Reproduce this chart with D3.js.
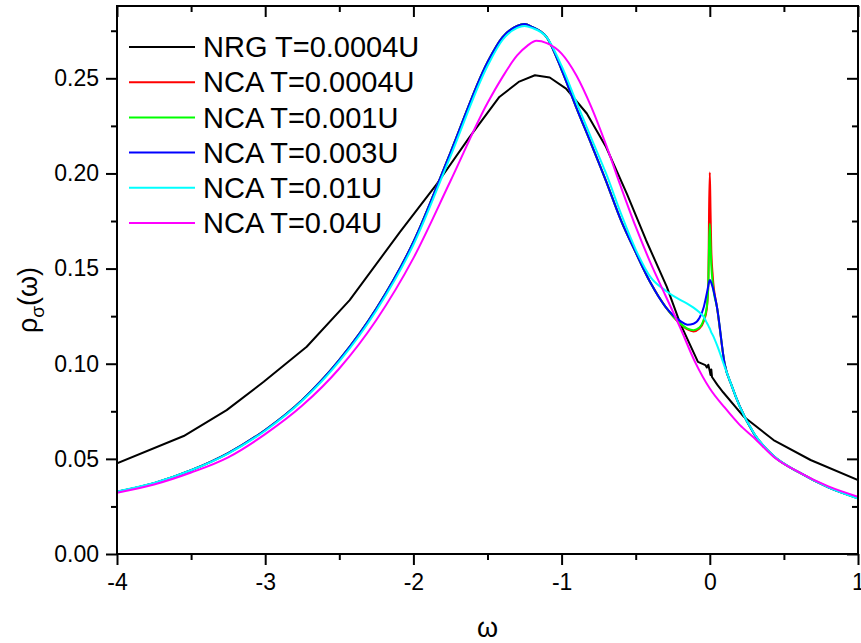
<!DOCTYPE html>
<html>
<head>
<meta charset="utf-8">
<script src="https://cdn.jsdelivr.net/npm/d3@7"></script>
<style>
body { margin: 0; background: #fff; }
text { font-family: "Liberation Sans", Arial, sans-serif; }
</style>
</head>
<body>
<svg id="chart" width="861" height="643"></svg>
<script>
// spectral function
var nrgW = [-4, -3.55, -3.26, -3.01, -2.72, -2.43, -2.09, -1.84, -1.62, -1.42, -1.29, -1.18, -1.08, -0.97, -0.83, -0.70, -0.56, -0.43, -0.29, -0.20, -0.08, -0.03, -0.02, -0.01, 0.0, 0.005, 0.01, 0.015, 0.05, 0.09, 0.23, 0.43, 0.68, 1.0];
var nrgRho = [0.0476, 0.0620, 0.0756, 0.0905, 0.1089, 0.1334, 0.1693, 0.1947, 0.2192, 0.2402, 0.2481, 0.2516, 0.2504, 0.2446, 0.2315, 0.2139, 0.1894, 0.1649, 0.1404, 0.1212, 0.1010, 0.0993, 0.0980, 0.0995, 0.0960, 0.0940, 0.0970, 0.0930, 0.0890, 0.0850, 0.0721, 0.0599, 0.0494, 0.0389];

var ncaW = [-4, -3.75, -3.5, -3.25, -3, -2.75, -2.5, -2.25, -2, -1.75, -1.5, -1.4, -1.3, -1.25, -1.2, -1.1, -1, -0.9, -0.8, -0.7, -0.6, -0.5, -0.4, -0.3, -0.2, -0.15, -0.11, -0.07, -0.04, -0.02, -0.01, -0.005, 0, 0.005, 0.01, 0.02, 0.05, 0.1, 0.15, 0.2, 0.3, 0.43, 0.6, 0.8, 1];
var ncaT0004 = [0.0327, 0.0372, 0.0440, 0.0530, 0.0652, 0.0810, 0.1020, 0.1290, 0.1640, 0.2110, 0.2585, 0.2715, 0.2775, 0.2785, 0.2770, 0.2715, 0.2545, 0.2345, 0.2155, 0.1960, 0.1755, 0.1585, 0.1425, 0.1300, 0.1210, 0.1180, 0.1170, 0.1185, 0.1225, 0.1290, 0.1420, 0.1800, 0.2005, 0.1800, 0.1600, 0.1460, 0.1290, 0.1000, 0.0880, 0.0780, 0.0630, 0.0515, 0.0430, 0.0350, 0.0293];
var ncaT001 = [0.0327, 0.0372, 0.0440, 0.0530, 0.0652, 0.0810, 0.1020, 0.1290, 0.1640, 0.2110, 0.2585, 0.2715, 0.2775, 0.2785, 0.2770, 0.2715, 0.2545, 0.2345, 0.2155, 0.1960, 0.1755, 0.1585, 0.1425, 0.1300, 0.1212, 0.1184, 0.1176, 0.1190, 0.1235, 0.1300, 0.1420, 0.1620, 0.1735, 0.1620, 0.1520, 0.1420, 0.1290, 0.1000, 0.0880, 0.0780, 0.0630, 0.0515, 0.0430, 0.0350, 0.0293];
var ncaT003 = [0.0327, 0.0372, 0.0440, 0.0530, 0.0652, 0.0810, 0.1020, 0.1290, 0.1640, 0.2110, 0.2585, 0.2715, 0.2775, 0.2785, 0.2770, 0.2715, 0.2545, 0.2345, 0.2155, 0.1960, 0.1755, 0.1585, 0.1425, 0.1300, 0.1225, 0.1205, 0.1210, 0.1240, 0.1300, 0.1370, 0.1410, 0.1430, 0.1440, 0.1435, 0.1425, 0.1400, 0.1290, 0.1000, 0.0880, 0.0780, 0.0630, 0.0515, 0.0430, 0.0350, 0.0293];
var ncaT01 = [0.0329, 0.0373, 0.0440, 0.0528, 0.0648, 0.0805, 0.1012, 0.1280, 0.1625, 0.2090, 0.2565, 0.2700, 0.2765, 0.2775, 0.2765, 0.2715, 0.2565, 0.2375, 0.2185, 0.2000, 0.1790, 0.1600, 0.1455, 0.1385, 0.1335, 0.1315, 0.1295, 0.1270, 0.1245, 0.1215, 0.1200, 0.1192, 0.1185, 0.1175, 0.1165, 0.1150, 0.1095, 0.0985, 0.0880, 0.0778, 0.0632, 0.0516, 0.0430, 0.0350, 0.0291];

var magW = [-4, -3.75, -3.5, -3.25, -3, -2.75, -2.5, -2.25, -2, -1.75, -1.5, -1.4, -1.3, -1.23, -1.17, -1.1, -1, -0.9, -0.8, -0.7, -0.6, -0.5, -0.4, -0.3, -0.2, -0.1, 0, 0.1, 0.2, 0.3, 0.43, 0.6, 0.8, 1];
var ncaT04 = [0.0322, 0.0365, 0.0428, 0.0508, 0.0630, 0.0780, 0.0975, 0.1230, 0.1555, 0.1960, 0.2370, 0.2505, 0.2620, 0.2672, 0.2697, 0.2685, 0.2630, 0.2515, 0.2350, 0.2150, 0.1930, 0.1720, 0.1530, 0.1360, 0.1190, 0.1010, 0.0870, 0.0770, 0.0680, 0.0610, 0.0511, 0.0430, 0.0355, 0.0301];

var seriesNames = ["NRG T=0.0004U", "NCA T=0.0004U", "NCA T=0.001U", "NCA T=0.003U", "NCA T=0.01U", "NCA T=0.04U"];
var seriesColors = ["#000000", "#ff0000", "#00ff00", "#0000ff", "#00ffff", "#ff00ff"];

var xTicks = [-4, -3, -2, -1, 0, 1];
var yTicks = [0, 0.05, 0.10, 0.15, 0.20, 0.25];

var W = 861, H = 643;
var m = {left: 117, top: 6, right: 3, bottom: 89};
var pw = W - m.left - m.right, ph = H - m.top - m.bottom;

var svg = d3.select("#chart");
var x = d3.scaleLinear().domain([-4, 1]).range([0, pw]);
var y = d3.scaleLinear().domain([0, 0.288]).range([ph, 0]);

var g = svg.append("g").attr("transform", "translate(" + m.left + "," + m.top + ")");

svg.append("defs").append("clipPath").attr("id", "clip")
	.append("rect").attr("width", pw).attr("height", ph);

function make_series(ws, vs) {
	return ws.map(function(w, i) { return [w, vs[i]]; });
}

var data = [
	{pts: make_series(nrgW, nrgRho), curve: d3.curveLinear},
	{pts: make_series(ncaW, ncaT0004), curve: d3.curveMonotoneX},
	{pts: make_series(ncaW, ncaT001), curve: d3.curveMonotoneX},
	{pts: make_series(ncaW, ncaT003), curve: d3.curveMonotoneX},
	{pts: make_series(ncaW, ncaT01), curve: d3.curveMonotoneX},
	{pts: make_series(magW, ncaT04), curve: d3.curveMonotoneX}
];

var lines = g.append("g").attr("clip-path", "url(#clip)");
data.forEach(function(d, i) {
	var line = d3.line().x(function(p) { return x(p[0]); }).y(function(p) { return y(p[1]); }).curve(d.curve);
	lines.append("path")
		.attr("d", line(d.pts))
		.attr("fill", "none")
		.style("stroke", seriesColors[i])
		.style("stroke-width", 2)
		.style("stroke-linejoin", "round");
});

// minor ticks
var xMinor = d3.range(-3.5, 1, 1);
var yMinor = d3.range(0.025, 0.288, 0.05);

function style_axis(sel) {
	sel.select(".domain").remove();
	sel.selectAll("line").style("stroke", "#000").style("stroke-width", 2);
	sel.selectAll("text").style("font-size", "23px").style("fill", "#000")
		.style("font-family", "'Liberation Sans', Arial, sans-serif");
}

g.append("g").attr("transform", "translate(0," + ph + ")")
	.call(d3.axisBottom(x).tickValues(xTicks).tickSize(11).tickPadding(9).tickFormat(function(d) { return String(d); }))
	.call(style_axis);
g.append("g").attr("transform", "translate(0," + ph + ")")
	.call(d3.axisBottom(x).tickValues(xMinor).tickSize(6).tickFormat(""))
	.call(style_axis);
g.append("g")
	.call(d3.axisLeft(y).tickValues(yTicks).tickSize(11).tickPadding(7).tickFormat(d3.format(".2f")))
	.call(style_axis);
g.append("g")
	.call(d3.axisLeft(y).tickValues(yMinor).tickSize(6).tickFormat(""))
	.call(style_axis);
// mirrored ticks, pointing inward
g.append("g")
	.call(d3.axisBottom(x).tickValues(xTicks).tickSize(11).tickFormat(""))
	.call(style_axis);
g.append("g")
	.call(d3.axisBottom(x).tickValues(xMinor).tickSize(6).tickFormat(""))
	.call(style_axis);
g.append("g").attr("transform", "translate(" + pw + ",0)")
	.call(d3.axisLeft(y).tickValues(yTicks).tickSize(11).tickFormat(""))
	.call(style_axis);
g.append("g").attr("transform", "translate(" + pw + ",0)")
	.call(d3.axisLeft(y).tickValues(yMinor).tickSize(6).tickFormat(""))
	.call(style_axis);

g.append("rect").attr("width", pw).attr("height", ph)
	.attr("fill", "none").style("stroke", "#000").style("stroke-width", 2);

// legend
var leg = svg.append("g").attr("transform", "translate(129,47)");
seriesNames.forEach(function(name, i) {
	var row = leg.append("g").attr("transform", "translate(0," + (i * 35.2) + ")");
	row.append("line").attr("x1", 0).attr("x2", 66).attr("y1", 0).attr("y2", 0)
		.style("stroke", seriesColors[i]).style("stroke-width", 2);
	row.append("text").attr("x", 74).attr("dy", "0.35em")
		.style("font-size", "29px").text(name);
});

// axis titles
svg.append("text").attr("x", m.left + pw / 2).attr("y", 637)
	.attr("text-anchor", "middle").style("font-size", "27px").text("ω");
var yt = svg.append("text").attr("transform", "translate(37,300) rotate(-90)")
	.attr("text-anchor", "middle").style("font-size", "27px");
yt.append("tspan").text("ρ");
yt.append("tspan").attr("dy", 7).style("font-size", "19px").text("σ");
yt.append("tspan").attr("dy", -7).text("(ω)");
</script>
</body>
</html>
